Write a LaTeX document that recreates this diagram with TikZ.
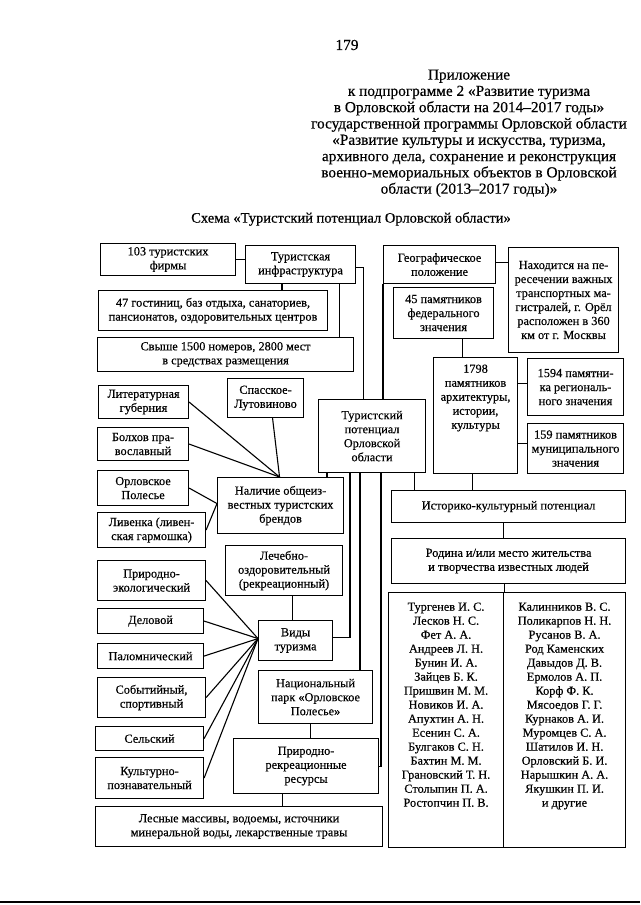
\documentclass[tikz,border=0pt]{standalone}
\usepackage{fontspec}
\setmainfont{Liberation Serif}[FakeBold=0.4]
\usepackage{tikz}
\usetikzlibrary{calc,positioning}

\newcommand{\boxfont}{\fontsize{12.3}{14}\selectfont}
\newcommand{\headfont}{\fontsize{15.3}{16.3}\selectfont}

\begin{document}
\begin{tikzpicture}[x=1pt, y=-1pt, line width=1.1pt,
    box/.style={draw, align=center, inner sep=1pt, font=\boxfont, anchor=north west},
    frame/.style={draw, inner sep=0pt, anchor=north west},
    lbl/.style={align=center, inner sep=0pt, font=\boxfont, anchor=north},
    wh/.style 2 args={minimum width=#1pt, minimum height=#2pt}]
    \useasboundingbox (0,0) rectangle (640,905);

    % Header
    \node[font=\headfont] (page) at (347,45) {179};
    \node[font=\headfont, align=center, anchor=north, inner sep=0pt] (appendix) at (469,69)
        {Приложение\\к подпрограмме 2 «Развитие туризма\\в Орловской области на 2014–2017 годы»\\государственной программы Орловской области\\«Развитие культуры и искусства, туризма,\\архивного дела, сохранение и реконструкция\\военно-мемориальных объектов в Орловской\\области (2013–2017 годы)»};
    \node[font=\fontsize{14.5}{16}\selectfont] (title) at (351,219) {Схема «Туристский потенциал Орловской области»};

    % Infrastructure
    \node[box, wh={135}{32}] (firms) at (100,243) {103 туристских\\фирмы};
    \node[box, wh={110}{38}] (infra) at (245,245) {Туристская\\инфраструктура};
    \node[box, wh={229}{40}] (hotels) at (98,290) {47 гостиниц, баз отдыха, санаториев,\\пансионатов, оздоровительных центров};
    \node[box, wh={256}{34}] (rooms) at (97,337) {Свыше 1500 номеров, 2800 мест\\в средствах размещения};

    % Geography and monuments
    \node[box, wh={112}{38}] (geo) at (383,245) {Географическое\\положение};
    \node[box, wh={110}{105}] (location) at (508,247) {Находится на пе-\\ресечении важных\\транспортных ма-\\гистралей, г. Орёл\\расположен в 360\\км от г. Москвы};
    \node[box, wh={100}{51}] (fed) at (393,287) {45 памятников\\федерального\\значения};
    \node[frame, wh={84}{116}] (monum) at (433,357) {};
    \node[lbl] (monumtxt) at ([yshift=-7pt]monum.north) {1798\\памятников\\архитектуры,\\истории,\\культуры};
    \node[box, wh={96}{57}] (reg) at (527,358) {1594 памятни-\\ка региональ-\\ного значения};
    \node[box, wh={96}{50}] (mun) at (527,423) {159 памятников\\муниципального\\значения};

    % Centre
    \node[box, wh={107}{73}] (pot) at (318,399) {Туристский\\потенциал\\Орловской\\области};

    % Brands
    \node[box, wh={90}{33}] (lit) at (98,385) {Литературная\\губерния};
    \node[box, wh={76}{39}] (spas) at (227,378) {Спасское-\\Лутовиново};
    \node[box, wh={91}{33}] (bolkh) at (97,427) {Болхов пра-\\вославный};
    \node[box, wh={91}{35}] (polesye) at (97,470) {Орловское\\Полесье};
    \node[box, wh={108}{35}] (livenka) at (97,512) {Ливенка (ливен-\\ская гармошка)};
    \node[box, wh={126}{56}] (brands) at (217,477) {Наличие общеиз-\\вестных туристских\\брендов};

    % Historical and cultural potential
    \node[box, wh={234}{32}] (ikp) at (391,490) {Историко-культурный потенциал};
    \node[box, wh={234}{45}] (rodina) at (391,538) {Родина и/или место жительства\\и творчества известных людей};
    \node[frame, wh={115}{255}] (namesL) at (388,592) {};
    \node[frame, wh={122}{255}] (namesR) at (503,592) {};
    \node[lbl] (namesLtxt) at ([yshift=-10pt]namesL.north)
        {Тургенев И. С.\\Лесков Н. С.\\Фет А. А.\\Андреев Л. Н.\\Бунин И. А.\\Зайцев Б. К.\\Пришвин М. М.\\Новиков И. А.\\Апухтин А. Н.\\Есенин С. А.\\Булгаков С. Н.\\Бахтин М. М.\\Грановский Т. Н.\\Столыпин П. А.\\Ростопчин П. В.};
    \node[lbl] (namesRtxt) at ([yshift=-10pt]namesR.north)
        {Калинников В. С.\\Поликарпов Н. Н.\\Русанов В. А.\\Род Каменских\\Давыдов Д. В.\\Ермолов А. П.\\Корф Ф. К.\\Мясоедов Г. Г.\\Курнаков А. И.\\Муромцев С. А.\\Шатилов И. Н.\\Орловский Б. И.\\Нарышкин А. А.\\Якушкин П. И.\\и другие};

    % Kinds of tourism
    \node[box, wh={117}{50}] (health) at (225,545) {Лечебно-\\оздоровительный\\(рекреационный)};
    \node[box, wh={74}{40}] (vidy) at (258,620) {Виды\\туризма};
    \node[box, wh={108}{40}] (eco) at (97,560) {Природно-\\экологический};
    \node[box, wh={106}{25}] (business) at (97,608) {Деловой};
    \node[box, wh={106}{25}] (pilgrim) at (97,643) {Паломнический};
    \node[box, wh={108}{40}] (event) at (97,677) {Событийный,\\спортивный};
    \node[box, wh={108}{24}] (rural) at (95,726) {Сельский};
    \node[box, wh={108}{41}] (cult) at (95,757) {Культурно-\\познавательный};

    % Natural resources
    \node[box, wh={114}{53}] (park) at (258,670) {Национальный\\парк «Орловское\\Полесье»};
    \node[box, wh={145}{55}] (natres) at (233,738) {Природно-\\рекреационные\\ресурсы};
    \node[box, wh={287}{40}] (forest) at (95,806) {Лесные массивы, водоемы, источники\\минеральной воды, лекарственные травы};

    % Connectors
    \draw (firms.east) -- (firms.east -| infra.west);
    \draw ([xshift=37pt]infra.south west) -- ([xshift=37pt]infra.south west |- hotels.north);
    \draw ([xshift=-17pt]infra.south east) -- ([xshift=-17pt]infra.south east |- rooms.north);
    \draw ([yshift=-3pt]infra.east) -| ([xshift=-8.5pt]pot.north);
    \draw (geo.south west) -- (geo.south west |- pot.north);
    \draw ([yshift=2pt]geo.east) -- ([yshift=2pt]geo.east -| location.west);
    \draw ([xshift=19pt]fed.south) -- ([xshift=19pt]fed.south |- monum.north);
    \draw ([yshift=4pt]reg.west) -- ([yshift=4pt]reg.west -| monum.east);
    \draw ([yshift=5pt]mun.west) -- ([yshift=5pt]mun.west -| monum.east);
    \draw ([xshift=-12pt]pot.south east) -- ([xshift=-12pt]pot.south east |- ikp.north);
    \draw ([xshift=-3pt]monum.south) -- ([xshift=-3pt]monum.south |- ikp.north);
    \draw ([xshift=-5pt]ikp.south) -- ([xshift=-5pt]ikp.south |- rodina.north);
    \draw (rodina.south -| namesL.north east) -- (namesL.north east);
    \draw ([xshift=9pt]pot.south west) -- ([xshift=9pt]pot.south west |- brands.north);
    \draw ([xshift=32pt]pot.south west) |- ([yshift=3pt]vidy.east);
    \draw ([xshift=42pt]pot.south west) -- ([xshift=42pt]pot.south west |- park.north);
    \draw ([xshift=63pt]pot.south west) |- (natres.east);
    \draw ([xshift=7pt]spas.south) -- ([xshift=-1pt]brands.north);
    \foreach \n in {lit,bolkh}
        \draw (\n.east) -- ([xshift=-1pt]brands.north);
    \foreach \n in {polesye,livenka}
        \draw (\n.east) -- ([yshift=2pt]brands.west);
    \draw ([xshift=-3pt]vidy.north) -- ([xshift=-3pt]vidy.north |- health.south);
    \foreach \n in {eco,business,pilgrim,event,rural,cult}
        \draw (\n.east) -- ([yshift=2pt]vidy.west);
    \draw ([xshift=-5pt]park.south) -- ([xshift=-5pt]park.south |- natres.north);
    \draw ([xshift=-23.5pt]natres.south) -- ([xshift=-23.5pt]natres.south |- forest.north);

    % Page edge
    \draw[line width=1.5pt] (0,902) -- (640,902);
\end{tikzpicture}
\end{document}
